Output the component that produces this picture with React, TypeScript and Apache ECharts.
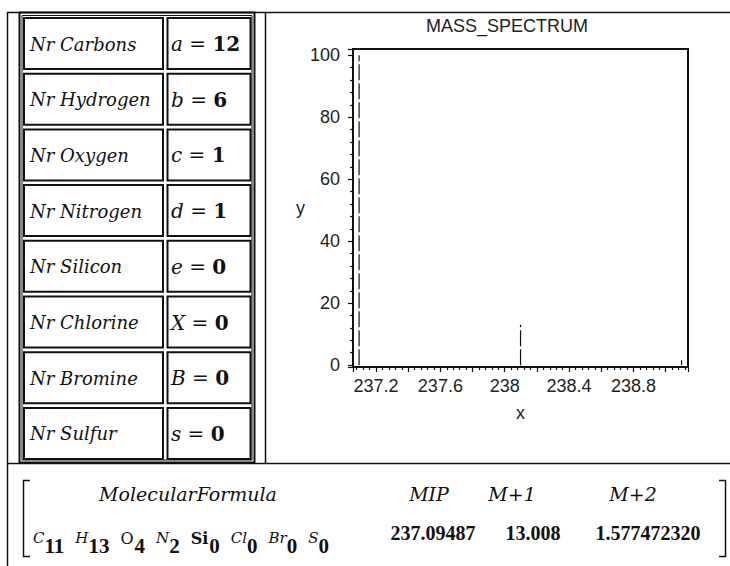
import React, { useEffect, useRef } from 'react';
import * as echarts from 'echarts';

// Input table: atom counts entered for the formula search
const elementNames = ['Nr Carbons', 'Nr Hydrogen', 'Nr Oxygen', 'Nr Nitrogen', 'Nr Silicon', 'Nr Chlorine', 'Nr Bromine', 'Nr Sulfur'];
const variableNames = ['a', 'b', 'c', 'd', 'e', 'X', 'B', 's'];
const atomCounts = [12, 6, 1, 1, 0, 0, 0, 0];

// Result matrix
const formulaSymbols = ['C', 'H', 'O', 'N', 'Si', 'Cl', 'Br', 'S'];
const formulaCounts = [11, 13, 4, 2, 0, 0, 0, 0];
const resultHeaders = ['MolecularFormula', 'MIP', 'M+1', 'M+2'];
const resultValues = ['237.09487', '13.008', '1.577472320'];

// Isotope peaks: mass and relative intensity
const peakMass = [237.09487, 238.09823, 239.09907];
const peakIntensity = [100, 13.008, 1.57747232];

// Plot view
const massRange = [237.057, 239.139];
const intensityRange = [-0.6, 102];

const SERIF = 'DejaVu Serif';
const NUM_SERIF = 'Liberation Serif';
const SANS = 'Liberation Sans';
const INK = '#111';

const measureCtx = typeof document !== 'undefined' ? document.createElement('canvas').getContext('2d') : null;
function textWidth(text: string, font: string): number {
  if (!measureCtx) return text.length * 10;
  measureCtx.font = font;
  return measureCtx.measureText(text).width;
}

// text element drawn through a single rich token so that its font is applied as given
function label(x: number, y: number, text: string, font: any, align = 'left'): any {
  return {
    type: 'text',
    silent: true,
    x,
    y,
    style: {
      text: `{t|${text}}`,
      align,
      verticalAlign: 'middle',
      rich: { t: { fill: INK, ...font } },
    },
  };
}

function buildGraphics(): any[] {
  const g: any[] = [];
  const hLine = (x1: number, x2: number, y: number, w = 1.5) =>
    g.push({ type: 'line', silent: true, shape: { x1, y1: y, x2, y2: y }, style: { stroke: INK, lineWidth: w } });
  const vLine = (x: number, y1: number, y2: number, w = 1.5) =>
    g.push({ type: 'line', silent: true, shape: { x1: x, y1, x2: x, y2 }, style: { stroke: INK, lineWidth: w } });

  // worksheet frame
  hLine(7, 730, 12.5);
  vLine(7.5, 12, 566);
  vLine(265.5, 12, 463);
  hLine(7, 730, 463.5);

  // input table frame (double border)
  g.push({ type: 'rect', silent: true, shape: { x: 19.5, y: 12.5, width: 235, height: 450 }, style: { fill: 'none', stroke: INK, lineWidth: 2 } });
  g.push({ type: 'rect', silent: true, shape: { x: 22, y: 15.5, width: 230, height: 444.5 }, style: { fill: 'none', stroke: INK, lineWidth: 1 } });

  const rowPitch = 55.7;
  const cellFont = { fontFamily: SERIF, fontStyle: 'italic', fontSize: 18 };
  elementNames.forEach((name, i) => {
    const top = 18 + i * rowPitch;
    g.push({ type: 'rect', silent: true, shape: { x: 24, y: top, width: 139, height: 51 }, style: { fill: 'none', stroke: INK, lineWidth: 2 } });
    g.push({ type: 'rect', silent: true, shape: { x: 167.5, y: top, width: 83, height: 51 }, style: { fill: 'none', stroke: INK, lineWidth: 2 } });
    g.push(label(30, top + 26, name, cellFont));
    g.push({
      type: 'text', silent: true, x: 171, y: top + 26,
      style: {
        text: `{v|${variableNames[i]}}{o| = }{n|${atomCounts[i]}}`,
        verticalAlign: 'middle',
        rich: {
          v: { fontFamily: SERIF, fontStyle: 'italic', fontSize: 20, fill: INK },
          o: { fontFamily: SERIF, fontSize: 20, fill: INK },
          n: { fontFamily: SERIF, fontWeight: 'bold', fontSize: 20, fill: INK },
        },
      },
    });
  });

  // result matrix brackets
  g.push({ type: 'polyline', silent: true, shape: { points: [[30, 480.5], [23.5, 480.5], [23.5, 556.5], [30, 556.5]] }, style: { fill: 'none', stroke: INK, lineWidth: 1.5 } });
  g.push({ type: 'polyline', silent: true, shape: { points: [[719, 480.5], [725.5, 480.5], [725.5, 556.5], [719, 556.5]] }, style: { fill: 'none', stroke: INK, lineWidth: 1.5 } });

  // header row
  const colCenters = [188, 429, 512, 633];
  resultHeaders.forEach((h, i) => {
    g.push(label(colCenters[i], 494, h, { fontFamily: SERIF, fontStyle: 'italic', fontSize: 19 }, 'center'));
  });

  // value row
  const valueCenters = [433, 533, 648];
  resultValues.forEach((v, i) => {
    g.push(label(valueCenters[i], 533, v, { fontFamily: NUM_SERIF, fontWeight: 'bold', fontSize: 20 }, 'center'));
  });

  // molecular formula with subscripted counts
  const symbolStyle: Record<string, { style: string; weight: string; size: number }> = {
    O: { style: 'normal', weight: 'normal', size: 16 },
    Si: { style: 'normal', weight: 'bold', size: 16 },
  };
  let x = 33;
  formulaSymbols.forEach((sym, i) => {
    const st = symbolStyle[sym] || { style: 'italic', weight: 'normal', size: 15 };
    const symFont = `${st.style} ${st.weight} ${st.size}px "${SERIF}"`;
    g.push(label(x, 538, sym, { fontFamily: SERIF, fontStyle: st.style, fontWeight: st.weight, fontSize: st.size }));
    x += textWidth(sym, symFont) + (st.style === 'italic' ? 0 : 1);
    const sub = String(formulaCounts[i]);
    g.push(label(x, 546, sub, { fontFamily: NUM_SERIF, fontWeight: 'bold', fontSize: 21 }));
    x += textWidth(sub, `bold 21px "${NUM_SERIF}"`) + 11;
  });

  return g;
}

function nearMultiple(v: number, step: number): boolean {
  const q = v / step;
  return Math.abs(q - Math.round(q)) < 1e-6;
}

function buildOption(): any {
  const axisFont = { fontFamily: SANS, fontSize: 18, color: '#222' };
  return {
    animation: false,
    backgroundColor: '#fff',
    title: {
      text: 'MASS_SPECTRUM',
      left: 502,
      top: 12,
      textAlign: 'center',
      textStyle: { fontFamily: SANS, fontSize: 18, fontWeight: 'normal', color: '#222' },
    },
    grid: { left: 353, top: 49, right: 42, bottom: 199, show: true, borderColor: INK, borderWidth: 2, backgroundColor: 'transparent' },
    xAxis: {
      type: 'value',
      min: massRange[0],
      max: massRange[1],
      splitNumber: 10,
      name: 'x',
      nameLocation: 'middle',
      nameGap: 37,
      nameTextStyle: axisFont,
      axisLine: { onZero: false, lineStyle: { color: INK, width: 2 } },
      axisTick: { length: 5, lineStyle: { color: INK, width: 1.2 } },
      minorTick: { show: true, splitNumber: 5, length: 3, lineStyle: { color: INK, width: 1.2 } },
      splitLine: { show: false },
      axisLabel: {
        ...axisFont,
        margin: 10,
        showMinLabel: false,
        showMaxLabel: false,
        formatter: (v: number) => (nearMultiple(v, 0.4) ? String(+v.toFixed(1)) : ''),
      },
    },
    yAxis: {
      type: 'value',
      min: intensityRange[0],
      max: intensityRange[1],
      splitNumber: 5,
      name: 'y',
      nameLocation: 'middle',
      nameRotate: 0,
      nameGap: 47,
      nameTextStyle: axisFont,
      axisLine: { onZero: false, lineStyle: { color: INK, width: 2 } },
      axisTick: { length: 5, lineStyle: { color: INK, width: 1.2 } },
      minorTick: { show: true, splitNumber: 5, length: 3, lineStyle: { color: INK, width: 1.2 } },
      splitLine: { show: false },
      axisLabel: {
        ...axisFont,
        margin: 13,
        showMinLabel: false,
        showMaxLabel: false,
        formatter: (v: number) => (nearMultiple(v, 20) ? String(Math.round(v)) : ''),
      },
    },
    series: [
      {
        type: 'custom',
        silent: true,
        clip: true,
        encode: { x: 0, y: 1 },
        data: peakMass.map((m, i) => [m, peakIntensity[i]]),
        renderItem: (_params: any, api: any) => {
          const base = api.coord([api.value(0), 0]);
          const top = api.coord([api.value(0), api.value(1)]);
          return {
            type: 'line',
            shape: { x1: base[0], y1: base[1], x2: top[0], y2: top[1] },
            style: { stroke: INK, lineWidth: 1.2, lineDash: [16, 3] },
          };
        },
      },
    ],
    graphic: buildGraphics(),
  };
}

export default function App() {
  const ref = useRef<HTMLDivElement>(null);
  useEffect(() => {
    if (!ref.current) return;
    const chart = echarts.init(ref.current, null, { renderer: 'svg' });
    chart.setOption(buildOption());
    return () => chart.dispose();
  }, []);
  return (
    <div
      ref={ref}
      style={{ position: 'absolute', left: 0, top: 0, width: 730, height: 566, background: '#fff' }}
    />
  );
}
